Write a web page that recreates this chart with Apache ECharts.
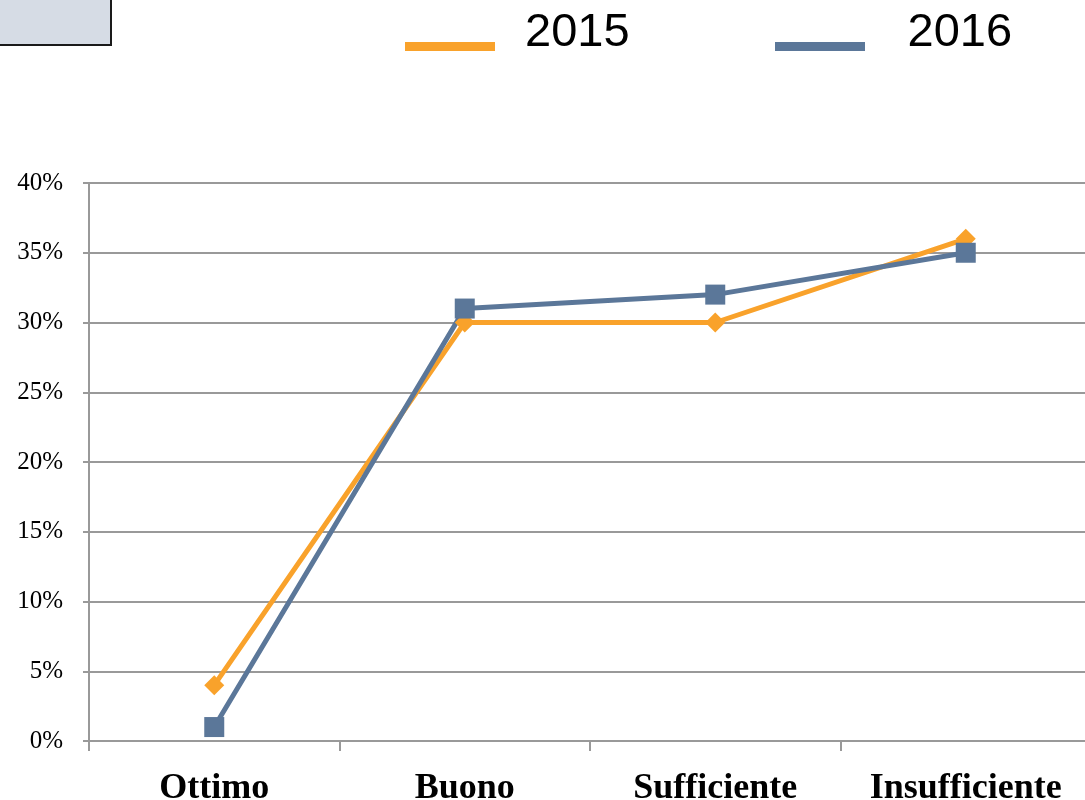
<!DOCTYPE html>
<html>
<head>
<meta charset="utf-8">
<script src="https://cdn.jsdelivr.net/npm/echarts@6/dist/echarts.min.js"></script>
<style>html,body{margin:0;padding:0;background:#fff;overflow:hidden;}#c{width:1100px;height:800px;}</style>
</head>
<body>
<div id="c"></div>
<script>
const categories = ['Ottimo', 'Buono', 'Sufficiente', 'Insufficiente'];
const values2015 = [4, 30, 30, 36];
const values2016 = [1, 31, 32, 35];
const seriesNames = ['2015', '2016'];

const chart = echarts.init(document.getElementById('c'));
const legendFont = {fontFamily: '"Liberation Sans", Arial, sans-serif', fontSize: 47, color: '#000'};
const legendIcon = 'path://M0,0 M0,26 L90,26 L90,35 L0,35 Z';
chart.setOption({
  animation: false,
  backgroundColor: '#fff',
  graphic: [{
    type: 'rect', shape: {x: -3, y: -3, width: 114, height: 48},
    style: {fill: '#d6dce5', stroke: '#1a1a1a', lineWidth: 2}
  }],
  legend: [
    {data: [seriesNames[0]], left: 400, top: 5, itemWidth: 90, itemHeight: 35, icon: legendIcon,
     textStyle: Object.assign({padding: [0, 0, 0, 25]}, legendFont)},
    {data: [seriesNames[1]], left: 770, top: 5, itemWidth: 95, itemHeight: 35, icon: legendIcon,
     textStyle: Object.assign({padding: [0, 0, 0, 35]}, legendFont)}
  ],
  grid: {left: 89, top: 183, width: 1002, height: 558, containLabel: false, outerBoundsMode: 'none'},
  xAxis: {
    type: 'category', data: categories, boundaryGap: true,
    axisLine: {lineStyle: {color: '#999', width: 2}},
    axisTick: {show: true, interval: 0, length: 10, lineStyle: {color: '#999', width: 2}},
    axisLabel: {interval: 0, fontFamily: '"Liberation Serif", "Times New Roman", serif', fontWeight: 'bold', fontSize: 36, color: '#000', margin: 30}
  },
  yAxis: {
    type: 'value', min: 0, max: 40, interval: 5,
    axisLine: {show: true, lineStyle: {color: '#999', width: 2}},
    axisTick: {show: true, length: 6, lineStyle: {color: '#999', width: 2}},
    splitLine: {lineStyle: {color: '#999', width: 2}},
    axisLabel: {formatter: '{value}%', fontFamily: '"Liberation Serif", "Times New Roman", serif', fontSize: 25, color: '#000', margin: 26}
  },
  series: [
    {name: seriesNames[0], type: 'line', data: values2015, symbol: 'diamond', symbolSize: 20,
     lineStyle: {color: '#f9a22b', width: 5}, itemStyle: {color: '#f9a22b'}},
    {name: seriesNames[1], type: 'line', data: values2016, symbol: 'rect', symbolSize: 20,
     lineStyle: {color: '#5b7799', width: 5}, itemStyle: {color: '#5b7799'}}
  ]
});
</script>
</body>
</html>
